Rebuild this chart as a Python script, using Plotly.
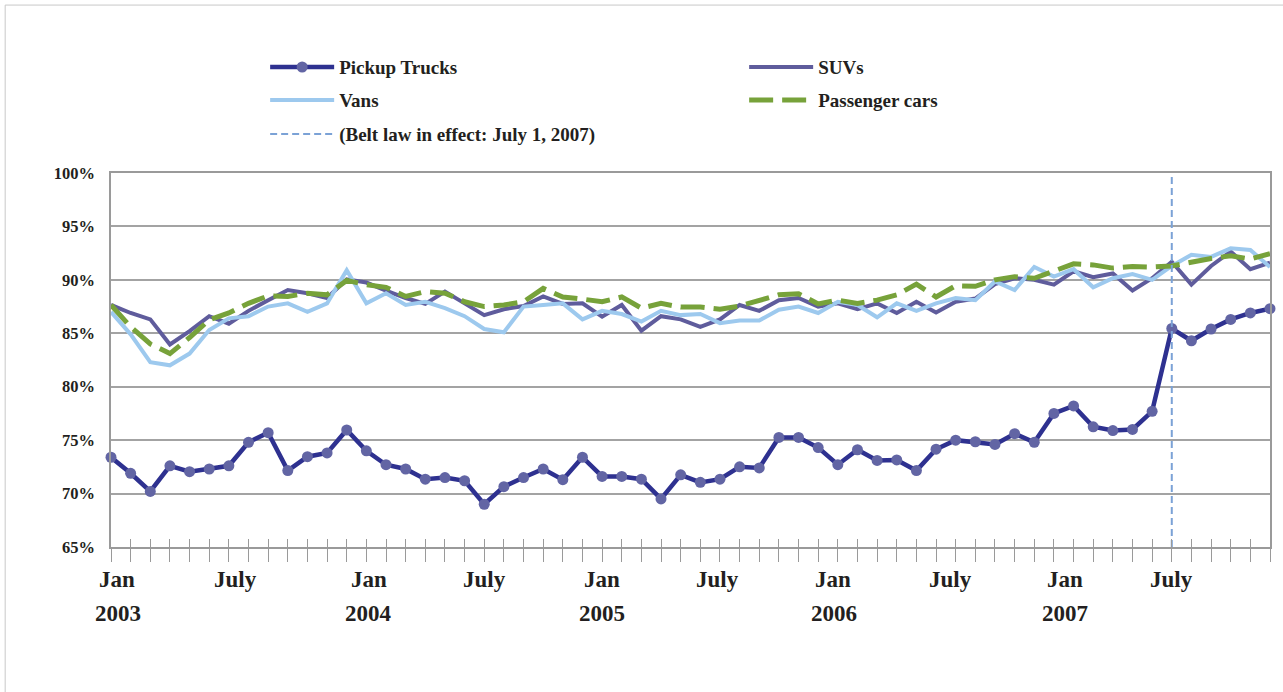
import plotly.graph_objects as go

# ---- data ----
months = [f"{m} {y}" for y in range(2003, 2008) for m in
          ["Jan", "Feb", "Mar", "Apr", "May", "Jun", "Jul", "Aug", "Sep", "Oct", "Nov", "Dec"]]

pickup = [73.4, 71.9, 70.2, 72.6, 72.05, 72.3, 72.6, 74.8, 75.7, 72.15, 73.45, 73.8,
          75.95, 74.0, 72.7, 72.3, 71.35, 71.5, 71.2, 69.0, 70.65, 71.5, 72.3, 71.3,
          73.4, 71.6, 71.6, 71.35, 69.5, 71.75, 71.05, 71.35, 72.5, 72.4, 75.25, 75.25,
          74.3, 72.7, 74.1, 73.1, 73.15, 72.15, 74.15, 75.0, 74.85, 74.6, 75.6, 74.8,
          77.5, 78.2, 76.25, 75.9, 76.0, 77.7, 85.45, 84.3, 85.4, 86.3, 86.9, 87.3]

suvs = [87.65, 86.9, 86.3, 83.95, 85.2, 86.6, 85.9, 87.1, 88.1, 89.05, 88.75, 88.3,
        90.05, 89.75, 89.0, 88.3, 87.75, 88.9, 87.8, 86.7, 87.25, 87.55, 88.45, 87.75,
        87.8, 86.55, 87.65, 85.25, 86.6, 86.3, 85.6, 86.3, 87.65, 87.1, 88.1, 88.3,
        87.5, 87.8, 87.25, 87.8, 86.9, 87.95, 86.95, 87.95, 88.25, 89.6, 90.15, 90.0,
        89.55, 90.8, 90.25, 90.6, 89.0, 90.15, 91.7, 89.55, 91.3, 92.65, 91.0, 91.6]

vans = [87.0, 84.9, 82.3, 82.0, 83.1, 85.3, 86.4, 86.6, 87.5, 87.8, 87.0, 87.8,
        90.9, 87.8, 88.75, 87.65, 87.95, 87.35, 86.6, 85.4, 85.1, 87.5, 87.65, 87.8,
        86.3, 87.1, 86.8, 86.1, 87.1, 86.7, 86.8, 85.95, 86.2, 86.2, 87.2, 87.5,
        86.9, 87.95, 87.65, 86.5, 87.8, 87.1, 87.8, 88.3, 88.1, 89.85, 89.05, 91.2,
        90.3, 91.0, 89.3, 90.15, 90.55, 90.0, 91.3, 92.35, 92.15, 92.95, 92.8, 91.2]

cars = [87.65, 85.6, 84.0, 83.1, 84.6, 86.25, 86.9, 87.8, 88.5, 88.45, 88.75, 88.6,
        89.95, 89.55, 89.3, 88.45, 88.9, 88.75, 87.95, 87.5, 87.65, 87.95, 89.2, 88.4,
        88.2, 87.95, 88.4, 87.35, 87.8, 87.45, 87.45, 87.25, 87.55, 88.1, 88.6, 88.7,
        87.75, 88.1, 87.8, 88.1, 88.6, 89.6, 88.4, 89.45, 89.4, 90.0, 90.3, 90.15,
        90.8, 91.5, 91.4, 91.1, 91.25, 91.2, 91.3, 91.7, 92.0, 92.25, 91.95, 92.45]

belt_law_month = "Jul 2007"
y_ticks = [65, 70, 75, 80, 85, 90, 95, 100]
y_ticktext = [f"{v}%" for v in y_ticks]
month_label_pos = ["Jan 2003", "Jul 2003", "Jan 2004", "Jul 2004", "Jan 2005", "Jul 2005",
                   "Jan 2006", "Jul 2006", "Jan 2007", "Jul 2007"]
month_label_text = ["Jan", "July", "Jan", "July", "Jan", "July", "Jan", "July", "Jan", "July"]
year_label_pos = ["Jan 2003", "Jan 2004", "Jan 2005", "Jan 2006", "Jan 2007"]
year_label_text = ["2003", "2004", "2005", "2006", "2007"]

# ---- layout-only tweaks (label nudges in px, as placed in the original) ----
month_label_nudge = [6, 7, 22, 20, 20, 17, 15, 14, 11, 0]
year_label_nudge = [7, 22, 20, 16, 11]

# ---- figure ----
x = list(range(len(months)))
idx = {m: i for i, m in enumerate(months)}
SERIF = "Liberation Serif"
TXT = "#231f20"

fig = go.Figure()
fig.add_trace(go.Scatter(
    x=x, y=pickup, name="Pickup Trucks", mode="lines+markers",
    line=dict(color="#2e3190", width=4.5),
    marker=dict(color="#6265a4", size=11), cliponaxis=False, legend="legend"))
fig.add_trace(go.Scatter(
    x=x, y=suvs, name="SUVs", mode="lines",
    line=dict(color="#5f5c9c", width=4), legend="legend"))
fig.add_trace(go.Scatter(
    x=x, y=vans, name="Vans", mode="lines",
    line=dict(color="#9dc9ee", width=4), legend="legend2"))
fig.add_trace(go.Scatter(
    x=x, y=cars, name="Passenger cars", mode="lines",
    line=dict(color="#77a23a", width=5, dash="24px,9px"), legend="legend2"))
bx = idx[belt_law_month]
fig.add_trace(go.Scatter(
    x=[bx, bx], y=[y_ticks[0], y_ticks[-1]], name="(Belt law in effect: July 1, 2007)",
    mode="lines", line=dict(color="#7ba2d6", width=2, dash="7px,4px"), legend="legend3"))

legend_common = dict(orientation="h", xanchor="left", yanchor="middle",
                     font=dict(family=SERIF, size=19, color=TXT, weight="bold"),
                     itemwidth=64, entrywidthmode="pixels", entrywidth=400,
                     bgcolor="rgba(0,0,0,0)", traceorder="normal")
fig.update_layout(
    width=1283, height=692,
    margin=dict(l=111, r=11, t=173, b=145),
    paper_bgcolor="white", plot_bgcolor="white",
    showlegend=True,
    legend=dict(x=0.133, y=1.283, **legend_common),
    legend2=dict(x=0.133, y=1.195, **legend_common),
    legend3=dict(x=0.133, y=1.104, **legend_common),
    xaxis=dict(range=[0, len(months) - 1], tickmode="array",
               tickvals=[idx[m] for m in month_label_pos], showticklabels=False,
               ticks="outside", ticklen=13, tickcolor="#9a9a9a", tickwidth=1,
               minor=dict(dtick=1, tick0=0, ticks="outside", ticklen=13,
                          tickcolor="#9a9a9a", tickwidth=1, showgrid=False),
               showgrid=False, zeroline=False, showline=True, linecolor="#9a9a9a",
               linewidth=1.5, mirror=True),
    xaxis2=dict(range=[0, len(months) - 1], overlaying="x", anchor="y", side="bottom",
                dtick=1, tick0=0, ticks="inside", ticklen=8, tickcolor="#9a9a9a",
                showticklabels=False, showgrid=False, zeroline=False, showline=False),
    yaxis=dict(range=[65, 100], tickmode="array", tickvals=y_ticks, ticktext=y_ticktext,
               showgrid=True, gridcolor="#a3a3a3", gridwidth=1.5, zeroline=False,
               showline=True, linecolor="#9a9a9a", linewidth=1.5, mirror=True, ticks="",
               tickfont=dict(family=SERIF, size=16.5, color=TXT, weight="bold"),
               ticklabelstandoff=11),
)
# invisible trace to activate the overlay axis that draws the upper half of the ticks
fig.add_trace(go.Scatter(x=[0], y=[65], xaxis="x2", mode="markers",
                         marker=dict(opacity=0), showlegend=False, hoverinfo="skip"))

label_font = dict(family=SERIF, size=23, color=TXT, weight="bold")
for pos, txt, dx in zip(month_label_pos, month_label_text, month_label_nudge):
    fig.add_annotation(x=idx[pos], y=-0.0882, xref="x", yref="paper", text=txt,
                       showarrow=False, xshift=dx, yanchor="middle", font=label_font)
for pos, txt, dx in zip(year_label_pos, year_label_text, year_label_nudge):
    fig.add_annotation(x=idx[pos], y=-0.1765, xref="x", yref="paper", text=txt,
                       showarrow=False, xshift=dx, yanchor="middle", font=label_font)

# light frame around the figure
fig.add_shape(type="line", xref="paper", yref="paper", x0=-0.0913, x1=-0.0913,
              y0=1.449, y1=-0.5, line=dict(color="#c8c8c8", width=1))
fig.add_shape(type="line", xref="paper", yref="paper", x0=-0.0913, x1=1.02,
              y0=1.449, y1=1.449, line=dict(color="#c8c8c8", width=1))

fig.write_html("out.html", config={"displayModeBar": False},
               post_script="document.body.style.margin='0px';")
